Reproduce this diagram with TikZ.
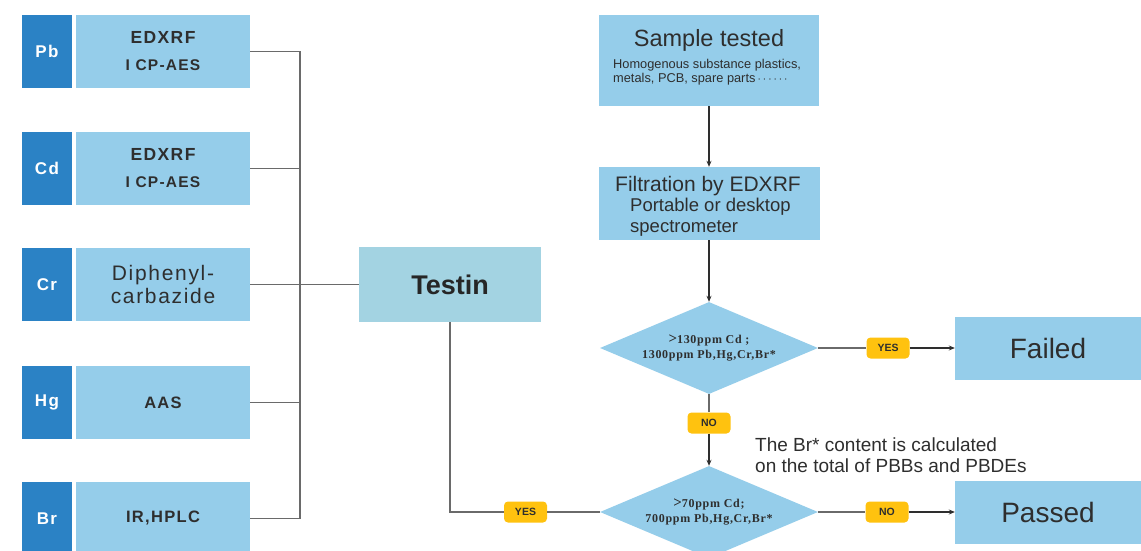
\documentclass[tikz,border=0pt]{standalone}
\usepackage{fontspec}
\setmainfont{Liberation Sans}
\newfontfamily\spsans[LetterSpace=8]{Liberation Sans}
\newfontfamily\dserif[LetterSpace=6]{Liberation Serif}
\usetikzlibrary{shapes.geometric,arrows.meta}
\definecolor{lblue}{HTML}{95CDEA}
\definecolor{dblue}{HTML}{2B82C5}
\definecolor{tblue}{HTML}{A3D3E2}
\definecolor{tag}{HTML}{FFC20F}
\definecolor{wire}{HTML}{6A6A6A}
\definecolor{ink}{HTML}{2E2E2E}
\tikzset{
  elem/.style={fill=dblue, text=white, minimum width=50pt, minimum height=73pt, inner sep=0pt, font=\spsans\bfseries\fontsize{17}{17}\selectfont},
  meth/.style={fill=lblue, text=ink, minimum width=174pt, minimum height=73pt, inner sep=0pt, align=center},
  box/.style={fill=lblue, text=ink, inner sep=0pt, align=center},
  dia/.style={diamond, fill=lblue, text=ink, inner sep=0pt, aspect=2.37, minimum width=218pt, minimum height=92pt, align=center, font=\dserif\bfseries\fontsize{12}{15}\selectfont},
  tagbox/.style={fill=tag, rounded corners=4pt, text=ink, minimum width=43pt, minimum height=21pt, inner sep=0pt, font=\bfseries\fontsize{10.5}{10.5}\selectfont},
  wireline/.style={draw=wire, line width=1.6pt},
  arr/.style={draw=ink, line width=1.2pt, -{Stealth[length=6pt,width=5pt]}},
}
\begin{document}
\begin{tikzpicture}[x=1pt,y=-1pt]
\useasboundingbox (0,0) rectangle (1141,551);
\fill[white] (0,0) rectangle (1141,551);
% left column
\node[elem] (pb) at (47,51.5) {Pb};
\node[meth, font=\spsans\bfseries\fontsize{17.5}{27}\selectfont] (pbm) at (163,51.5) {EDXRF\\{\fontsize{15.5}{15.5}\selectfont I CP-AES}};
\node[elem] (cd) at (47,168.5) {Cd};
\node[meth, font=\spsans\bfseries\fontsize{17.5}{27}\selectfont] (cdm) at (163,168.5) {EDXRF\\{\fontsize{15.5}{15.5}\selectfont I CP-AES}};
\node[elem] (cr) at (47,284.5) {Cr};
\node[meth, font=\spsans\fontsize{21}{23}\selectfont] (crm) at (163,284.5) {Diphenyl-\\carbazide};
\node[elem] (hg) at (47,402.5) {Hg};
\node[meth, font=\spsans\bfseries\fontsize{16.5}{17}\selectfont] (hgm) at (163,402.5) {AAS};
\node[elem] (br) at (47,518.5) {Br};
\node[meth, font=\spsans\bfseries\fontsize{16.5}{17}\selectfont] (brm) at (163,518.5) {IR,HPLC};
\node[box, fill=tblue, minimum width=182pt, minimum height=75pt, font=\bfseries\fontsize{27}{27}\selectfont, text=black!85] (testin) at (450,284.5) {Testin};
\coordinate (bus) at (300,0);
\draw[wireline] (pbm.east) -- (pbm.east -| bus) -- (brm.east -| bus) -- (brm.east);
\draw[wireline] (cdm.east) -- (cdm.east -| bus);
\draw[wireline] (hgm.east) -- (hgm.east -| bus);
\draw[wireline] (crm.east) -- (testin.west);
% right column
\node[box, minimum width=220pt, minimum height=91pt] (sample) at (709,60.5) {};
\node[text=ink, font=\fontsize{23.5}{23.5}\selectfont] (samplet) at (709,40) {Sample tested};
\node[text=ink, align=left, anchor=north west, inner sep=0pt, font=\fontsize{12.8}{13.5}\selectfont] (samples) at (613,59.5) {Homogenous substance plastics,\\metals, PCB, spare parts\,$\cdots\cdots$};
\node[box, minimum width=221pt, minimum height=73pt] (filt) at (709,203.5) {};
\node[text=ink, font=\fontsize{21}{21}\selectfont] (filtt) at (708,186) {Filtration by EDXRF};
\node[text=ink, align=left, anchor=north west, inner sep=0pt, font=\fontsize{18.5}{21}\selectfont] (filts) at (630,198) {Portable or desktop\\spectrometer};
\node[dia] (d1) at (709,348) {{\fontsize{15}{15}\selectfont >}130ppm Cd ;\\1300ppm Pb,Hg,Cr,Br*};
\node[dia] (d2) at (709,512) {{\fontsize{15}{15}\selectfont >}70ppm Cd;\\700ppm Pb,Hg,Cr,Br*};
\node[tagbox] (no1) at (709,423) {NO};
\node[tagbox] (yes1) at (888,348) {YES};
\node[tagbox] (no2) at (887,512) {NO};
\node[tagbox] (yes2) at (525.5,512) {YES};
\node[box, minimum width=186pt, minimum height=63pt, font=\fontsize{28}{28}\selectfont] (failed) at (1048,348) {Failed};
\node[box, minimum width=186pt, minimum height=63pt, font=\fontsize{28}{28}\selectfont] (passed) at (1048,512) {Passed};
\node[text=ink, align=left, anchor=west, inner sep=0pt, font=\fontsize{19}{21}\selectfont] (note) at (755,455) {The Br* content is calculated\\on the total of PBBs and PBDEs};
\draw[arr] (sample.south) -- (filt.north);
\draw[arr] (filt.south) -- (d1.north);
\draw[wireline] (d1.south) -- (no1.north);
\draw[arr] (no1.south) -- (d2.north);
\draw[wireline] (d1.east) -- (yes1.west);
\draw[arr] (yes1.east) -- (failed.west);
\draw[wireline] (d2.east) -- (no2.west);
\draw[arr] (no2.east) -- (passed.west);
\draw[wireline] (testin.south) |- (yes2.west);
\draw[wireline] (yes2.east) -- (d2.west);
\end{tikzpicture}
\end{document}
